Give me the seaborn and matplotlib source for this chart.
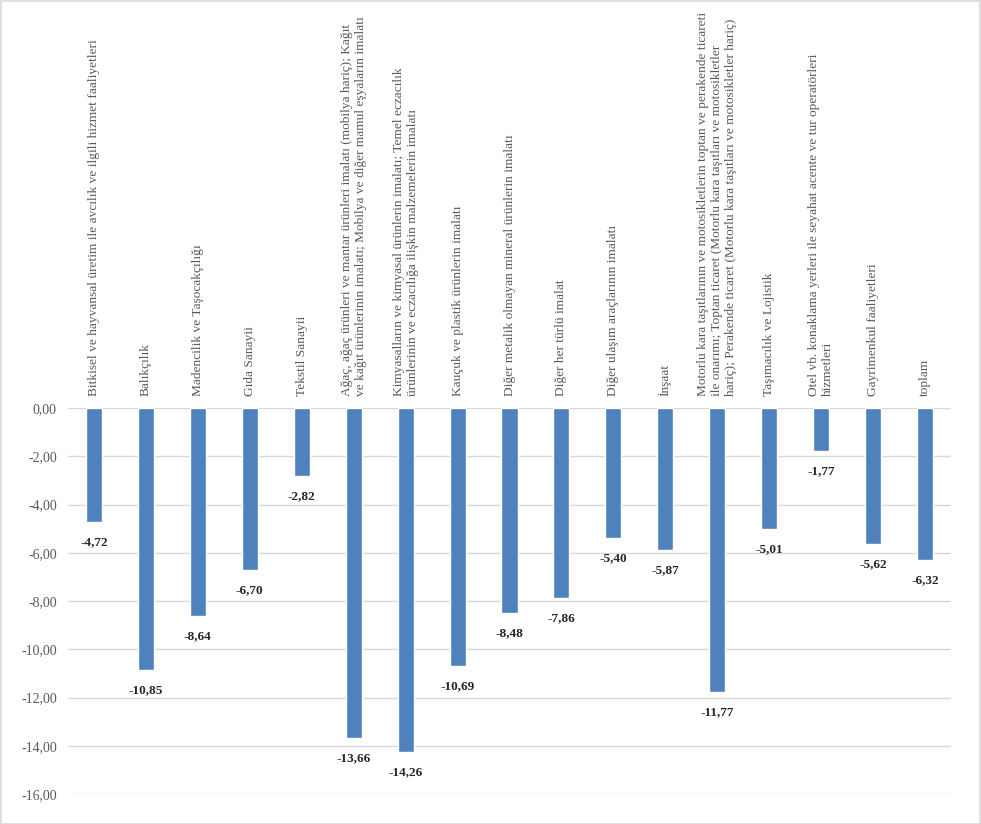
import matplotlib
matplotlib.use("Agg")
import matplotlib.pyplot as plt
import matplotlib.patches as mpatches
import matplotlib.ticker as mticker
import pandas as pd
import seaborn as sns

categories = [
    "Bitkisel ve hayvansal üretim ile avcılık ve ilgili hizmet faaliyetleri",
    "Balıkçılık",
    "Madencilik ve Taşocakçılığı",
    "Gıda Sanayii",
    "Tekstil Sanayii",
    "Ağaç, ağaç ürünleri ve mantar ürünleri imalatı (mobilya hariç); Kağıt\n"
    "ve kağıt ürünlerinin imalatı; Mobilya ve diğer mamul eşyaların imalatı",
    "Kimyasalların ve kimyasal ürünlerin imalatı; Temel eczacılık\n"
    "ürünlerinin ve eczacılığa ilişkin malzemelerin imalatı",
    "Kauçuk ve plastik ürünlerin imalatı",
    "Diğer metalik olmayan mineral ürünlerin imalatı",
    "Diğer her türlü imalat",
    "Diğer ulaşım araçlarının imalatı",
    "İnşaat",
    "Motorlu kara taşıtlarının ve motosikletlerin toptan ve perakende ticareti\n"
    "ile onarımı; Toptan ticaret (Motorlu kara taşıtları ve motosikletler\n"
    "hariç); Perakende ticaret (Motorlu kara taşıtları ve motosikletler hariç)",
    "Taşımacılık ve Lojistik",
    "Otel vb. konaklama yerleri ile seyahat acente ve tur operatörleri\n"
    "hizmetleri",
    "Gayrimenkul faaliyetleri",
    "toplam",
]
values = [-4.72, -10.85, -8.64, -6.70, -2.82, -13.66, -14.26, -10.69, -8.48,
          -7.86, -5.40, -5.87, -11.77, -5.01, -1.77, -5.62, -6.32]
y_ticks = [0, -2, -4, -6, -8, -10, -12, -14, -16]

df = pd.DataFrame({"sektor": categories, "deger": values})

sns.set_style("white")
plt.rcParams["font.family"] = ["Liberation Serif", "DejaVu Serif"]

W, H = 981, 824
fig = plt.figure(figsize=(W / 100, H / 100), dpi=100)
ax = fig.add_axes([68 / W, 1 - 794 / H, (951 - 68) / W, (794 - 408) / H])

sns.barplot(data=df, x="sektor", y="deger", color="#4F81BD", saturation=1,
            width=0.31, ax=ax, zorder=3)

ax.set_ylim(-16, 0)
ax.set_xlim(-0.5, len(categories) - 0.5)
ax.set_yticks(y_ticks)
ax.yaxis.set_major_formatter(
    mticker.FuncFormatter(lambda v, _: f"{v:.2f}".replace(".", ",")))
ax.tick_params(axis="y", length=0, pad=8, labelsize=10, labelcolor="#595959")
ax.set_xticks([])
ax.set_xlabel("")
ax.set_ylabel("")
ax.grid(axis="y", color="#D9D9D9", linewidth=1, zorder=0)
for s in ax.spines.values():
    s.set_visible(False)

# Sector names stand upright above the zero line
for i, name in enumerate(categories):
    ax.annotate(name, xy=(i, 0), xytext=(0, 9), textcoords="offset points",
                rotation=90, ha="center", va="bottom", multialignment="left",
                fontsize=9.6, color="#595959", linespacing=1.22,
                annotation_clip=False)

# Value labels under each bar end
for i, v in enumerate(values):
    ax.annotate(f"{v:.2f}".replace(".", ","), xy=(i, v), xytext=(0, -14.5),
                textcoords="offset points", ha="center", va="center",
                fontsize=9.5, fontweight="bold", color="#262626")

# Thin frame round the whole chart
fig.patches.append(mpatches.Rectangle((0.5 / W, 0.5 / H), 1 - 1.5 / W, 1 - 1.5 / H,
                                      transform=fig.transFigure, fill=False,
                                      edgecolor="#D9D9D9", linewidth=1.2))

fig.savefig("out.png", dpi=100, facecolor="white")
